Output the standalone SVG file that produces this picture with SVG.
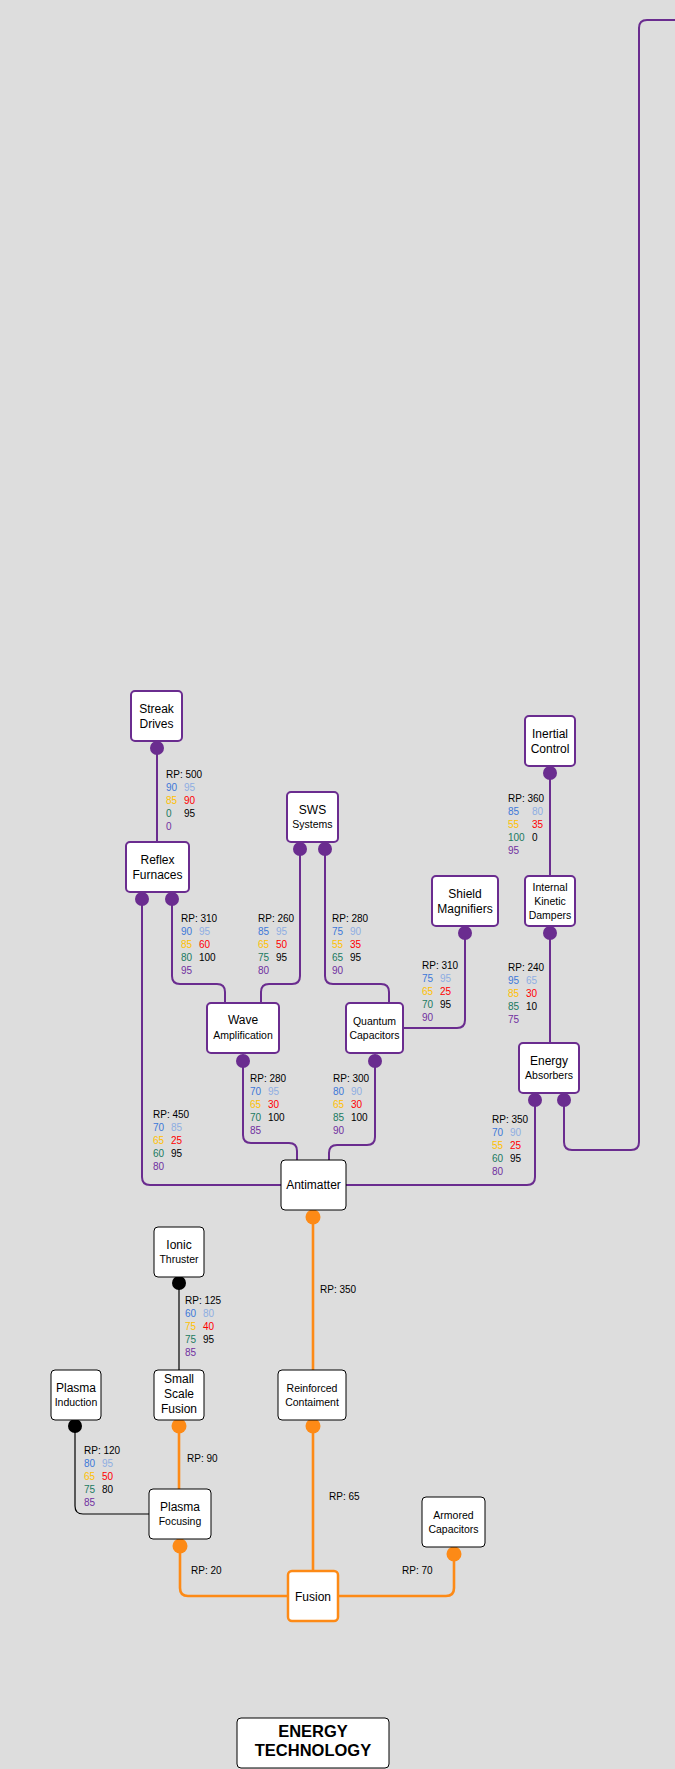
<svg xmlns="http://www.w3.org/2000/svg" width="675" height="1769" viewBox="0 0 675 1769">
<style>
.bg{fill:#dddddd}
.np{fill:#fff;stroke:#6a2c8f;stroke-width:2}
.nk{fill:#fff;stroke:#000;stroke-width:1}
.no{fill:#fff;stroke:#fd8a16;stroke-width:2.5}
.t{font-family:"Liberation Sans",Arial,sans-serif;font-size:12px;fill:#000;text-anchor:middle}
.s{font-family:"Liberation Sans",Arial,sans-serif;font-size:10.5px;fill:#000;text-anchor:middle}
.ttl{font-family:"Liberation Sans",Arial,sans-serif;font-size:16.5px;font-weight:bold;fill:#000;text-anchor:middle}
.l{font-family:"Liberation Sans",Arial,sans-serif;font-size:10px;fill:#000}
.b{fill:#3c78d8}.lb{fill:#8eaee2}.g{fill:#ffc000}.r{fill:#ff0000}.tl{fill:#1a7a60}.k{fill:#000}.p{fill:#7030a0}
.cp{fill:none;stroke:#6a2c8f;stroke-width:2}
.co{fill:none;stroke:#fd8a16;stroke-width:2.6}
.ck{fill:none;stroke:#000;stroke-width:1.2}
.dp{fill:#6a2c8f}.do{fill:#fd8a16}.dk{fill:#000}
</style>
<rect class="bg" x="0" y="0" width="675" height="1769"/>
<g id="connectors">
<path class="cp" d="M157 748V842"/>
<path class="cp" d="M142 899V1177Q142 1185 150 1185H281"/>
<path class="cp" d="M172 899V976Q172 984 180 984H217Q225 984 225 992V1003"/>
<path class="cp" d="M300 849V976Q300 984 292 984H269Q261 984 261 992V1003"/>
<path class="cp" d="M325 849V976Q325 984 333 984H381Q389 984 389 992V1003"/>
<path class="cp" d="M465 933V1020Q465 1028 457 1028H403"/>
<path class="cp" d="M550 773V876"/>
<path class="cp" d="M550 933V1043"/>
<path class="cp" d="M535 1100V1177Q535 1185 527 1185H346"/>
<path class="cp" d="M564 1100V1142Q564 1150 572 1150H631Q639 1150 639 1142V28Q639 20 647 20H675"/>
<path class="cp" d="M243 1061V1135Q243 1143 251 1143H289Q297 1143 297 1151V1160"/>
<path class="cp" d="M375 1061V1137Q375 1145 367 1145H337Q329 1145 329 1153V1160"/>
<path class="co" d="M313 1217V1370"/>
<path class="co" d="M313 1426V1571"/>
<path class="co" d="M179 1426V1489"/>
<path class="co" d="M180 1546V1588Q180 1596 188 1596H288"/>
<path class="co" d="M454 1554V1588Q454 1596 446 1596H338"/>
<path class="ck" d="M179 1283V1370"/>
<path class="ck" d="M75 1426V1506Q75 1514 83 1514H149"/>
<circle class="dp" cx="157" cy="748" r="7"/>
<circle class="dp" cx="142" cy="899" r="7"/>
<circle class="dp" cx="172" cy="899" r="7"/>
<circle class="dp" cx="300" cy="849" r="7"/>
<circle class="dp" cx="325" cy="849" r="7"/>
<circle class="dp" cx="465" cy="933" r="7"/>
<circle class="dp" cx="550" cy="773" r="7"/>
<circle class="dp" cx="550" cy="933" r="7"/>
<circle class="dp" cx="535" cy="1100" r="7"/>
<circle class="dp" cx="564" cy="1100" r="7"/>
<circle class="dp" cx="243" cy="1061" r="7"/>
<circle class="dp" cx="375" cy="1061" r="7"/>
<circle class="do" cx="313" cy="1217" r="7.5"/>
<circle class="do" cx="313" cy="1426" r="7.5"/>
<circle class="do" cx="179" cy="1426" r="7.5"/>
<circle class="do" cx="180" cy="1546" r="7.5"/>
<circle class="do" cx="454" cy="1554" r="7.5"/>
<circle class="dk" cx="179" cy="1283" r="7"/>
<circle class="dk" cx="75" cy="1426" r="7"/>
</g>
<g id="labels">
<g class="l">
<text x="166" y="778">RP: 500</text>
<text x="166" y="791" class="b">90</text><text x="184" y="791" class="lb">95</text>
<text x="166" y="804" class="g">85</text><text x="184" y="804" class="r">90</text>
<text x="166" y="817" class="tl">0</text><text x="184" y="817">95</text>
<text x="166" y="830" class="p">0</text>
</g>
<g class="l">
<text x="181" y="922">RP: 310</text>
<text x="181" y="935" class="b">90</text><text x="199" y="935" class="lb">95</text>
<text x="181" y="948" class="g">85</text><text x="199" y="948" class="r">60</text>
<text x="181" y="961" class="tl">80</text><text x="199" y="961">100</text>
<text x="181" y="974" class="p">95</text>
</g>
<g class="l">
<text x="258" y="922">RP: 260</text>
<text x="258" y="935" class="b">85</text><text x="276" y="935" class="lb">95</text>
<text x="258" y="948" class="g">65</text><text x="276" y="948" class="r">50</text>
<text x="258" y="961" class="tl">75</text><text x="276" y="961">95</text>
<text x="258" y="974" class="p">80</text>
</g>
<g class="l">
<text x="332" y="922">RP: 280</text>
<text x="332" y="935" class="b">75</text><text x="350" y="935" class="lb">90</text>
<text x="332" y="948" class="g">55</text><text x="350" y="948" class="r">35</text>
<text x="332" y="961" class="tl">65</text><text x="350" y="961">95</text>
<text x="332" y="974" class="p">90</text>
</g>
<g class="l">
<text x="422" y="969">RP: 310</text>
<text x="422" y="982" class="b">75</text><text x="440" y="982" class="lb">95</text>
<text x="422" y="995" class="g">65</text><text x="440" y="995" class="r">25</text>
<text x="422" y="1008" class="tl">70</text><text x="440" y="1008">95</text>
<text x="422" y="1021" class="p">90</text>
</g>
<g class="l">
<text x="508" y="802">RP: 360</text>
<text x="508" y="815" class="b">85</text><text x="532" y="815" class="lb">80</text>
<text x="508" y="828" class="g">55</text><text x="532" y="828" class="r">35</text>
<text x="508" y="841" class="tl">100</text><text x="532" y="841">0</text>
<text x="508" y="854" class="p">95</text>
</g>
<g class="l">
<text x="508" y="971">RP: 240</text>
<text x="508" y="984" class="b">95</text><text x="526" y="984" class="lb">65</text>
<text x="508" y="997" class="g">85</text><text x="526" y="997" class="r">30</text>
<text x="508" y="1010" class="tl">85</text><text x="526" y="1010">10</text>
<text x="508" y="1023" class="p">75</text>
</g>
<g class="l">
<text x="153" y="1118">RP: 450</text>
<text x="153" y="1131" class="b">70</text><text x="171" y="1131" class="lb">85</text>
<text x="153" y="1144" class="g">65</text><text x="171" y="1144" class="r">25</text>
<text x="153" y="1157" class="tl">60</text><text x="171" y="1157">95</text>
<text x="153" y="1170" class="p">80</text>
</g>
<g class="l">
<text x="250" y="1082">RP: 280</text>
<text x="250" y="1095" class="b">70</text><text x="268" y="1095" class="lb">95</text>
<text x="250" y="1108" class="g">65</text><text x="268" y="1108" class="r">30</text>
<text x="250" y="1121" class="tl">70</text><text x="268" y="1121">100</text>
<text x="250" y="1134" class="p">85</text>
</g>
<g class="l">
<text x="333" y="1082">RP: 300</text>
<text x="333" y="1095" class="b">80</text><text x="351" y="1095" class="lb">90</text>
<text x="333" y="1108" class="g">65</text><text x="351" y="1108" class="r">30</text>
<text x="333" y="1121" class="tl">85</text><text x="351" y="1121">100</text>
<text x="333" y="1134" class="p">90</text>
</g>
<g class="l">
<text x="492" y="1123">RP: 350</text>
<text x="492" y="1136" class="b">70</text><text x="510" y="1136" class="lb">90</text>
<text x="492" y="1149" class="g">55</text><text x="510" y="1149" class="r">25</text>
<text x="492" y="1162" class="tl">60</text><text x="510" y="1162">95</text>
<text x="492" y="1175" class="p">80</text>
</g>
<g class="l">
<text x="185" y="1304">RP: 125</text>
<text x="185" y="1317" class="b">60</text><text x="203" y="1317" class="lb">80</text>
<text x="185" y="1330" class="g">75</text><text x="203" y="1330" class="r">40</text>
<text x="185" y="1343" class="tl">75</text><text x="203" y="1343">95</text>
<text x="185" y="1356" class="p">85</text>
</g>
<g class="l">
<text x="84" y="1454">RP: 120</text>
<text x="84" y="1467" class="b">80</text><text x="102" y="1467" class="lb">95</text>
<text x="84" y="1480" class="g">65</text><text x="102" y="1480" class="r">50</text>
<text x="84" y="1493" class="tl">75</text><text x="102" y="1493">80</text>
<text x="84" y="1506" class="p">85</text>
</g>
<text class="l" x="320" y="1293">RP: 350</text>
<text class="l" x="187" y="1462">RP: 90</text>
<text class="l" x="329" y="1500">RP: 65</text>
<text class="l" x="191" y="1574">RP: 20</text>
<text class="l" x="402" y="1574">RP: 70</text>
</g>
<g id="streak-drives"><rect class="np" x="131" y="691" width="51" height="50" rx="4"/><text class="t" x="156.5" y="713">Streak</text><text class="t" x="156.5" y="728">Drives</text></g>
<g id="reflex-furnaces"><rect class="np" x="126" y="842" width="63" height="50" rx="4"/><text class="t" x="157.5" y="864">Reflex</text><text class="t" x="157.5" y="879">Furnaces</text></g>
<g id="sws-systems"><rect class="np" x="287" y="792" width="51" height="50" rx="4"/><text class="t" x="312.5" y="813.5">SWS</text><text class="s" x="312.5" y="827.5">Systems</text></g>
<g id="inertial-control"><rect class="np" x="525" y="716" width="50" height="50" rx="4"/><text class="t" x="550" y="738">Inertial</text><text class="t" x="550" y="753">Control</text></g>
<g id="shield-magnifiers"><rect class="np" x="432" y="876" width="66" height="50" rx="4"/><text class="t" x="465" y="898">Shield</text><text class="t" x="465" y="913">Magnifiers</text></g>
<g id="internal-kinetic-dampers"><rect class="np" x="525" y="876" width="50" height="50" rx="4"/><text class="s" x="550" y="891">Internal</text><text class="s" x="550" y="905">Kinetic</text><text class="s" x="550" y="918.5">Dampers</text></g>
<g id="wave-amplification"><rect class="np" x="207" y="1003" width="72" height="50" rx="4"/><text class="t" x="243" y="1024">Wave</text><text class="s" x="243" y="1038.5">Amplification</text></g>
<g id="quantum-capacitors"><rect class="np" x="346" y="1003" width="57" height="50" rx="4"/><text class="s" x="374.5" y="1024.5">Quantum</text><text class="s" x="374.5" y="1038.5">Capacitors</text></g>
<g id="energy-absorbers"><rect class="np" x="519" y="1043" width="60" height="50" rx="4"/><text class="t" x="549" y="1065">Energy</text><text class="s" x="549" y="1078.5">Absorbers</text></g>
<g id="antimatter"><rect class="nk" x="281" y="1160" width="65" height="50" rx="4"/><text class="t" x="313.5" y="1189">Antimatter</text></g>
<g id="ionic-thruster"><rect class="nk" x="154" y="1227" width="50" height="50" rx="4"/><text class="t" x="179" y="1249">Ionic</text><text class="s" x="179" y="1263">Thruster</text></g>
<g id="small-scale-fusion"><rect class="nk" x="154" y="1370" width="50" height="50" rx="4"/><text class="t" x="179" y="1383">Small</text><text class="t" x="179" y="1398">Scale</text><text class="t" x="179" y="1413">Fusion</text></g>
<g id="plasma-induction"><rect class="nk" x="51" y="1370" width="50" height="50" rx="4"/><text class="t" x="76" y="1391.5">Plasma</text><text class="s" x="76" y="1405.5">Induction</text></g>
<g id="reinforced-containment"><rect class="nk" x="278" y="1370" width="68" height="50" rx="4"/><text class="s" x="312" y="1391.5">Reinforced</text><text class="s" x="312" y="1405.5">Contaiment</text></g>
<g id="plasma-focusing"><rect class="nk" x="149" y="1489" width="62" height="50" rx="4"/><text class="t" x="180" y="1510.5">Plasma</text><text class="s" x="180" y="1524.5">Focusing</text></g>
<g id="armored-capacitors"><rect class="nk" x="422" y="1497" width="63" height="50" rx="4"/><text class="s" x="453.5" y="1518.5">Armored</text><text class="s" x="453.5" y="1532.5">Capacitors</text></g>
<g id="fusion"><rect class="no" x="288" y="1571" width="50" height="50" rx="4"/><text class="t" x="313" y="1600.5">Fusion</text></g>
<g id="energy-technology"><rect class="nk" x="237" y="1718" width="152" height="50" rx="4"/><text class="ttl" x="313" y="1737">ENERGY</text><text class="ttl" x="313" y="1756">TECHNOLOGY</text></g>
</svg>
